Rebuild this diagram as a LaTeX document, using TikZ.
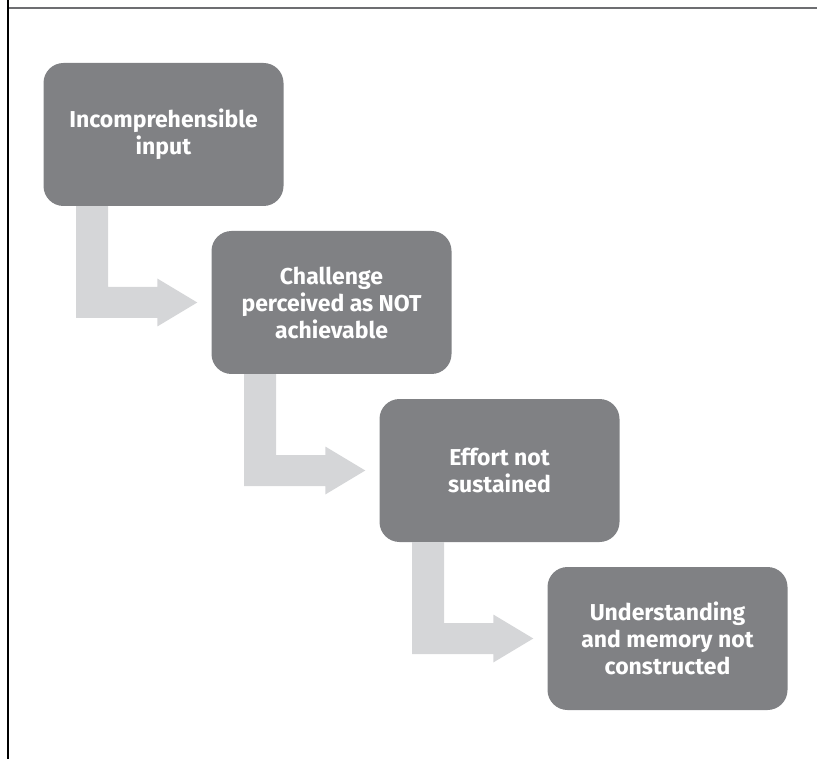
\documentclass[tikz,border=0pt]{standalone}
\usepackage{fontspec}
\setmainfont{Fira Sans}
\usetikzlibrary{calc}

\definecolor{boxgray}{HTML}{808184}
\definecolor{arrowgray}{HTML}{D5D6D8}
\definecolor{rulegray}{HTML}{6D6E71}

\tikzset{
  stage/.style={fill=boxgray, rounded corners=20pt, minimum width=240pt, minimum height=143pt,
    text=white, align=center, inner sep=0pt,
    font=\fontsize{23}{27}\selectfont\bfseries},
  arrowfill/.style={fill=arrowgray},
}

% L-shaped block arrow from the foot of #1 to the left side of #2
\newcommand{\steparrow}[2]{%
  \fill[arrowfill] ($(#1.south)+(-87.5,0)$) -- ($(#1.south)+(-55.5,0)$)
    |- ($(#2.west)+(-54,-15.5)$) -- ++(0,-8.5) -- ($(#2.west)+(-14,0)$)
    -- ($(#2.west)+(-54,24)$) -- ++(0,-8.5) -| ($(#1.south)+(-87.5,0)$) -- cycle;}

\begin{document}
\begin{tikzpicture}[x=1pt, y=-1pt]
\useasboundingbox (0,0) rectangle (817,759);
\draw[rulegray, line width=2pt] (8,8.5) -- (817,8.5);
\draw[black, line width=1.5pt] (8,0) -- (8,759);

\node[stage] (input)  at (163.5,134.5) {Incomprehensible\\input};
\node[stage] (chall)  at (331.5,302.5) {Challenge\\perceived as NOT\\achievable};
\node[stage] (effort) at (499.5,470.5) {Effort not\\sustained};
\node[stage] (memory) at (667.5,638.5) {Understanding\\and memory not\\constructed};

\steparrow{input}{chall}
\steparrow{chall}{effort}
\steparrow{effort}{memory}
\end{tikzpicture}
\end{document}
